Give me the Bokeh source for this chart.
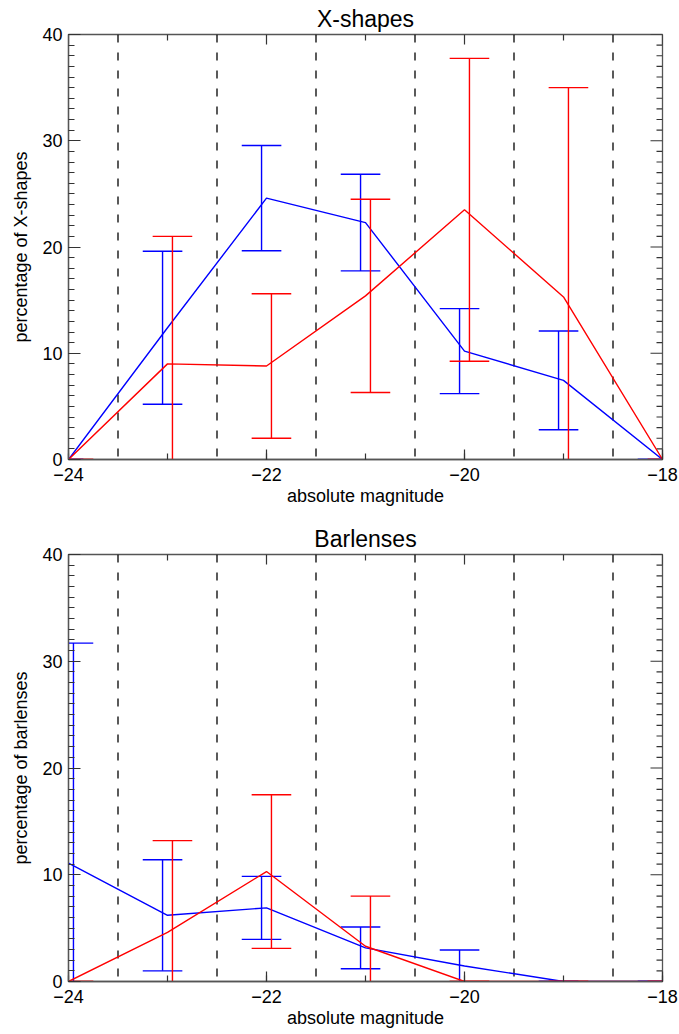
import math
import numpy as np
from bokeh.plotting import figure
from bokeh.layouts import column
from bokeh.models import Range1d, SingleIntervalTicker, ColumnDataSource, Span
from bokeh.embed import file_html
from bokeh.resources import INLINE

# absolute magnitude bins (bin centres) and bin edges drawn as dashed dividers
magnitudes = [-24, -23, -22, -21, -20, -19, -18]
bin_edges = [-23.5, -22.5, -21.5, -20.5, -19.5, -18.5]

# X-shapes: percentage and 1-sigma error, two samples
xshape_blue = [0.0, 12.4, 24.6, 22.3, 10.2, 7.45, 0.0]
xshape_blue_err = [0.0, 7.2, 4.95, 4.55, 4.0, 4.65, 0.0]
xshape_red = [0.0, 9.0, 8.8, 15.4, 23.5, 15.3, 0.0]
xshape_red_err = [0.0, 12.0, 6.8, 9.1, 14.25, 19.7, 0.0]

# Barlenses: percentage and 1-sigma error, two samples
barlens_blue = [11.1, 6.2, 6.9, 3.15, 1.45, 0.0, 0.0]
barlens_blue_err = [20.6, 5.2, 2.95, 1.95, 1.5, 0.0, 0.0]
barlens_red = [0.0, 4.6, 10.3, 3.3, 0.0, 0.0, 0.0]
barlens_red_err = [0.0, 8.6, 7.2, 4.7, 0.0, 0.0, 0.0]

# horizontal offsets of the error bars so the two samples do not overlap
xshape_blue_shift = [-0.05] * 7
xshape_red_shift = [0.05] * 7
barlens_blue_shift = [0.05, -0.05, -0.05, -0.05, -0.05, -0.05, -0.05]
barlens_red_shift = [0.05] * 7

X_LO, X_HI = -24, -18
Y_LO, Y_HI = 0, 40
X_MAJOR, X_MINOR = 2, 1
Y_MAJOR, Y_MINOR = 10, 1

FONT = "Liberation Sans"
AXIS_COLOR = "#555555"
TICK_COLOR = "#333333"
CAP_HALF = 0.2


def style_axis(ax, major_in, minor_in):
    ax.axis_line_color = AXIS_COLOR
    ax.axis_line_width = 1.3
    ax.major_tick_line_color = TICK_COLOR
    ax.minor_tick_line_color = TICK_COLOR
    ax.major_tick_line_width = 1.2
    ax.minor_tick_line_width = 1.2
    ax.major_tick_in = major_in
    ax.major_tick_out = 0
    ax.minor_tick_in = minor_in
    ax.minor_tick_out = 0
    ax.major_label_text_font = FONT
    ax.major_label_text_color = "black"
    ax.major_label_text_font_size = "18px"
    ax.axis_label_text_font = FONT
    ax.axis_label_text_font_style = "normal"
    ax.axis_label_text_color = "black"
    ax.axis_label_text_font_size = "18px"


def error_source(values, errors, shifts):
    xs = [m + s for m, s in zip(magnitudes, shifts)]
    return ColumnDataSource(dict(
        x=xs,
        lo=[v - e for v, e in zip(values, errors)],
        hi=[v + e for v, e in zip(values, errors)],
        cl=[x - CAP_HALF for x in xs],
        cr=[x + CAP_HALF for x in xs],
    ))


def draw_errors(p, src, color):
    p.segment(x0="x", y0="lo", x1="x", y1="hi", source=src, line_color=color, line_width=1.4)
    p.segment(x0="cl", y0="hi", x1="cr", y1="hi", source=src, line_color=color, line_width=1.4)
    p.segment(x0="cl", y0="lo", x1="cr", y1="lo", source=src, line_color=color, line_width=1.4)


def mirror_ticks(p):
    # inward ticks on the top and right edges of the box
    xs_all = np.arange(X_LO, X_HI + 1e-9, X_MINOR)
    xs_major = [x for x in xs_all if abs((x - X_LO) % X_MAJOR) < 1e-9]
    xs_minor = [x for x in xs_all if abs((x - X_LO) % X_MAJOR) >= 1e-9]
    ys_all = np.arange(Y_LO, Y_HI + 1e-9, Y_MINOR)
    ys_major = [y for y in ys_all if abs((y - Y_LO) % Y_MAJOR) < 1e-9]
    ys_minor = [y for y in ys_all if abs((y - Y_LO) % Y_MAJOR) >= 1e-9]
    kw = dict(length_units="screen", line_color=TICK_COLOR, line_width=1.2)
    p.ray(x=xs_major, y=[Y_HI] * len(xs_major), length=10, angle=-math.pi / 2, **kw)
    p.ray(x=xs_minor, y=[Y_HI] * len(xs_minor), length=6, angle=-math.pi / 2, **kw)
    p.ray(x=[X_HI] * len(ys_major), y=ys_major, length=12, angle=math.pi, **kw)
    p.ray(x=[X_HI] * len(ys_minor), y=ys_minor, length=6, angle=math.pi, **kw)


def panel(title, ylabel, blue, blue_err, blue_shift, red, red_err, red_shift, top, bottom):
    p = figure(width=679, height=517, x_range=Range1d(X_LO, X_HI), y_range=Range1d(Y_LO, Y_HI),
               output_backend="svg", toolbar_location=None,
               min_border_left=68, min_border_right=17,
               min_border_top=top, min_border_bottom=bottom)
    p.grid.visible = False
    p.outline_line_color = AXIS_COLOR
    p.outline_line_width = 1.3
    p.outline_line_alpha = 1.0
    p.background_fill_color = "white"
    p.border_fill_color = "white"

    p.title.text = title
    p.title.align = "center"
    p.title.text_font = FONT
    p.title.text_font_size = "23px"
    p.title.text_font_style = "normal"
    p.title.text_color = "black"
    p.title.standoff = 6

    p.xaxis[0].ticker = SingleIntervalTicker(interval=X_MAJOR, num_minor_ticks=X_MAJOR // X_MINOR)
    p.yaxis[0].ticker = SingleIntervalTicker(interval=Y_MAJOR, num_minor_ticks=Y_MAJOR // Y_MINOR)
    p.xaxis[0].axis_label = "absolute magnitude"
    p.yaxis[0].axis_label = ylabel
    style_axis(p.xaxis[0], 10, 6)
    style_axis(p.yaxis[0], 12, 6)
    p.xaxis[0].major_label_standoff = 8
    p.xaxis[0].axis_label_standoff = 2
    p.yaxis[0].major_label_standoff = 6
    p.yaxis[0].axis_label_standoff = 8

    mirror_ticks(p)

    for edge in bin_edges:
        p.add_layout(Span(location=edge, dimension="height", line_color="black",
                          line_width=1.3, line_dash="8 10", level="underlay"))

    p.line(magnitudes, blue, line_color="#0000ff", line_width=1.4)
    draw_errors(p, error_source(blue, blue_err, blue_shift), "#0000ff")
    p.line(magnitudes, red, line_color="#ff0000", line_width=1.4)
    draw_errors(p, error_source(red, red_err, red_shift), "#ff0000")
    return p


p1 = panel("X-shapes", "percentage of X-shapes",
           xshape_blue, xshape_blue_err, xshape_blue_shift,
           xshape_red, xshape_red_err, xshape_red_shift, 33, 58)
p2 = panel("Barlenses", "percentage of barlenses",
           barlens_blue, barlens_blue_err, barlens_blue_shift,
           barlens_red, barlens_red_err, barlens_red_shift, 37, 53)

layout = column(p1, p2, spacing=0)
open("out.html", "w").write(file_html(layout, INLINE))
